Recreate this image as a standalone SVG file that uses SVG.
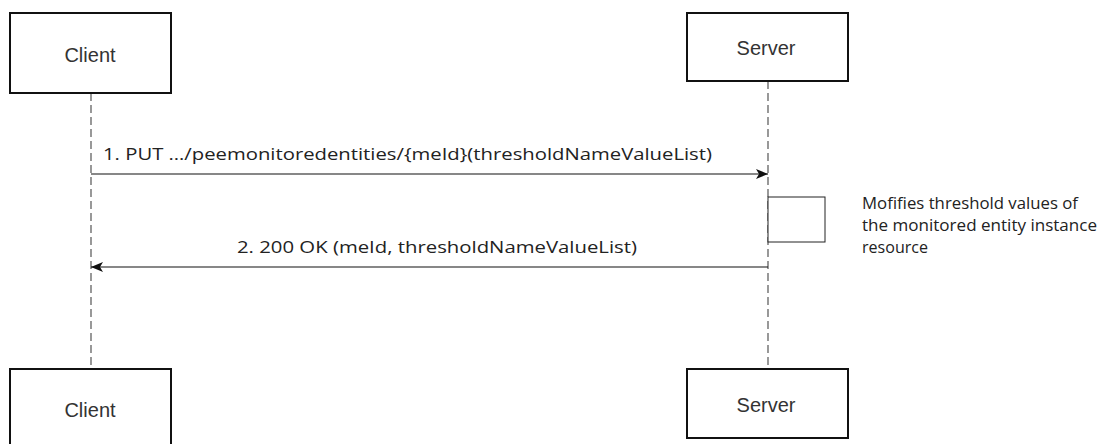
<svg xmlns="http://www.w3.org/2000/svg" width="1098" height="444" viewBox="0 0 1098 444">
<defs>
<style>
.box{fill:#fff;stroke:#111;stroke-width:2}
.lbl{font-family:"Liberation Sans",Arial,sans-serif;font-size:20px;fill:#333;text-anchor:middle}
.life{stroke:#555;stroke-width:1.2;stroke-dasharray:8,4;fill:none}
.msg{stroke:#111;stroke-width:1.2;fill:none}
.mt{font-family:"Open Sans","Liberation Sans",sans-serif;font-size:17px;fill:#222}
.note{font-family:"Open Sans","Liberation Sans",sans-serif;font-size:17px;fill:#222}
.act{fill:#fff;stroke:#222;stroke-width:1}
</style>
<marker id="ah" viewBox="0 0 12 10" refX="12" refY="5" markerWidth="12" markerHeight="10" markerUnits="userSpaceOnUse" orient="auto">
<path d="M0,0 L12,5 L0,10 L3,5 Z" fill="#111"/>
</marker>
</defs>
<g id="lifelines">
<line class="life" x1="91" y1="93" x2="91" y2="369"/>
<line class="life" x1="768" y1="81" x2="768" y2="369"/>
</g>
<g id="client-top">
<rect class="box" x="10" y="13" width="161" height="80"/>
<text class="lbl" x="90" y="62">Client</text>
</g>
<g id="server-top">
<rect class="box" x="687" y="13" width="161" height="68"/>
<text class="lbl" x="766" y="55">Server</text>
</g>
<g id="client-bottom">
<rect class="box" x="10" y="369" width="161" height="80"/>
<text class="lbl" x="90" y="417">Client</text>
</g>
<g id="server-bottom">
<rect class="box" x="687" y="369" width="161" height="69"/>
<text class="lbl" x="766" y="412">Server</text>
</g>
<g id="activation">
<rect class="act" x="768" y="197" width="57" height="45"/>
</g>
<g id="connectors">
<line class="msg" x1="91" y1="174" x2="768" y2="174" marker-end="url(#ah)"/>
<line class="msg" x1="768" y1="267" x2="91" y2="267" marker-end="url(#ah)"/>
</g>
<g id="labels">
<text class="mt" x="103" y="160" textLength="609" lengthAdjust="spacingAndGlyphs">1. PUT …/peemonitoredentities/{meId}(thresholdNameValueList)</text>
<text class="mt" x="237" y="253" textLength="400" lengthAdjust="spacingAndGlyphs">2. 200 OK (meId, thresholdNameValueList)</text>
</g>
<g id="note">
<text class="note" x="862" y="209" textLength="216" lengthAdjust="spacingAndGlyphs">Mofifies threshold values of</text>
<text class="note" x="862" y="231" textLength="235" lengthAdjust="spacingAndGlyphs">the monitored entity instance</text>
<text class="note" x="862" y="253" textLength="66" lengthAdjust="spacingAndGlyphs">resource</text>
</g>
</svg>
